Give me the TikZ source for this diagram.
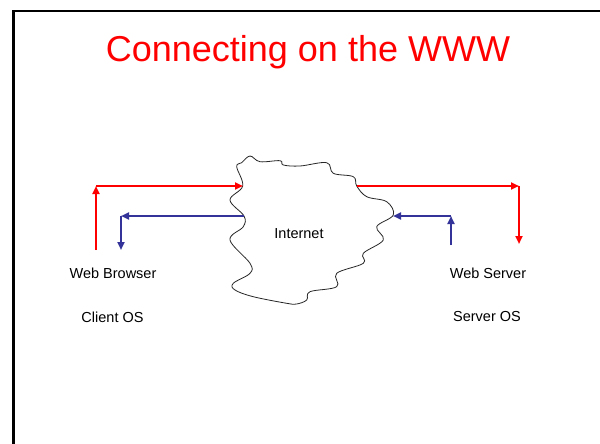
\documentclass[tikz,border=0pt]{standalone}
\usepackage{fontspec}
\setmainfont{Liberation Sans}
\usetikzlibrary{arrows.meta}
\definecolor{arrred}{RGB}{255,0,0}
\definecolor{arrblue}{RGB}{51,51,153}
\tikzset{
  conn/.style={line width=2.4pt,-{Triangle[length=8pt,width=7pt]}},
  redconn/.style={conn,draw=arrred,fill=arrred},
  blueconn/.style={conn,draw=arrblue,fill=arrblue},
  lbl/.style={anchor=base,font=\fontsize{14.5}{16}\selectfont,inner sep=0pt},
  cloudline/.style={draw=black!85,line width=0.8pt}
}
\begin{document}
\begin{tikzpicture}[x=1pt,y=-1pt]
\useasboundingbox (0,0) rectangle (600,444);
\fill[white] (0,0) rectangle (600,444);
% frame
\draw[line width=2.8pt] (13.5,444) -- (13.5,11) -- (600,11);
% title
\node[anchor=base,text=arrred,font=\fontsize{36}{40}\selectfont,inner sep=0pt] (title) at (308,62) {Connecting on the WWW};
% cloud
\draw[cloudline] plot[smooth cycle,tension=0.6] coordinates {
(241.7,162.7) (250,156) (260,161.7) (280,160.7) (283.3,165) (300,166)
(326.7,162.7) (333.3,173.3) (353.3,176.7) (356.7,186) (366.7,196.7)
(386.7,201.7) (393.3,215) (376.7,226.7) (383.3,240) (363.3,253.3)
(363.3,263.3) (336.7,273.3) (336.7,286.7) (310,291.7) (306.7,300)
(296.7,304) (286.7,303.3) (253.3,296.7) (235,290) (233.3,283.3)
(250,273.3) (250,263.3) (230,240) (243.3,226.7) (244,216) (230,200)
(242.7,186) (236.7,166.7)};
\node[lbl] (internet) at (299,238.3) {Internet};
% connector points
\coordinate (cl1) at (243,186);
\coordinate (cl2) at (244,216);
\coordinate (cr1) at (357,186);
\coordinate (cr2) at (393,216);
\coordinate (lr0) at (96,250);
\coordinate (lr1) at (96,186);
\coordinate (lb1) at (121,216);
\coordinate (lb2) at (121,250);
\coordinate (rr1) at (519,186);
\coordinate (rr2) at (519,244);
\coordinate (rb0) at (451,245);
\coordinate (rb1) at (451,216);
% left side
\draw[redconn] (lr0) -- (lr1);
\draw[redconn] (lr1) -- (cl1);
\draw[blueconn] (cl2) -- (lb1);
\draw[blueconn] (lb1) -- (lb2);
% right side
\draw[redconn] (cr1) -- (rr1);
\draw[redconn] (rr1) -- (rr2);
\draw[blueconn] (rb0) -- (rb1);
\draw[blueconn] (rb1) -- (cr2);
% labels
\node[lbl] (browser) at (113,278.3) {Web Browser};
\node[lbl] (clientos) at (112.5,322.7) {Client OS};
\node[lbl] (server) at (488,278.3) {Web Server};
\node[lbl] (serveros) at (487,321.7) {Server OS};
\end{tikzpicture}
\end{document}
